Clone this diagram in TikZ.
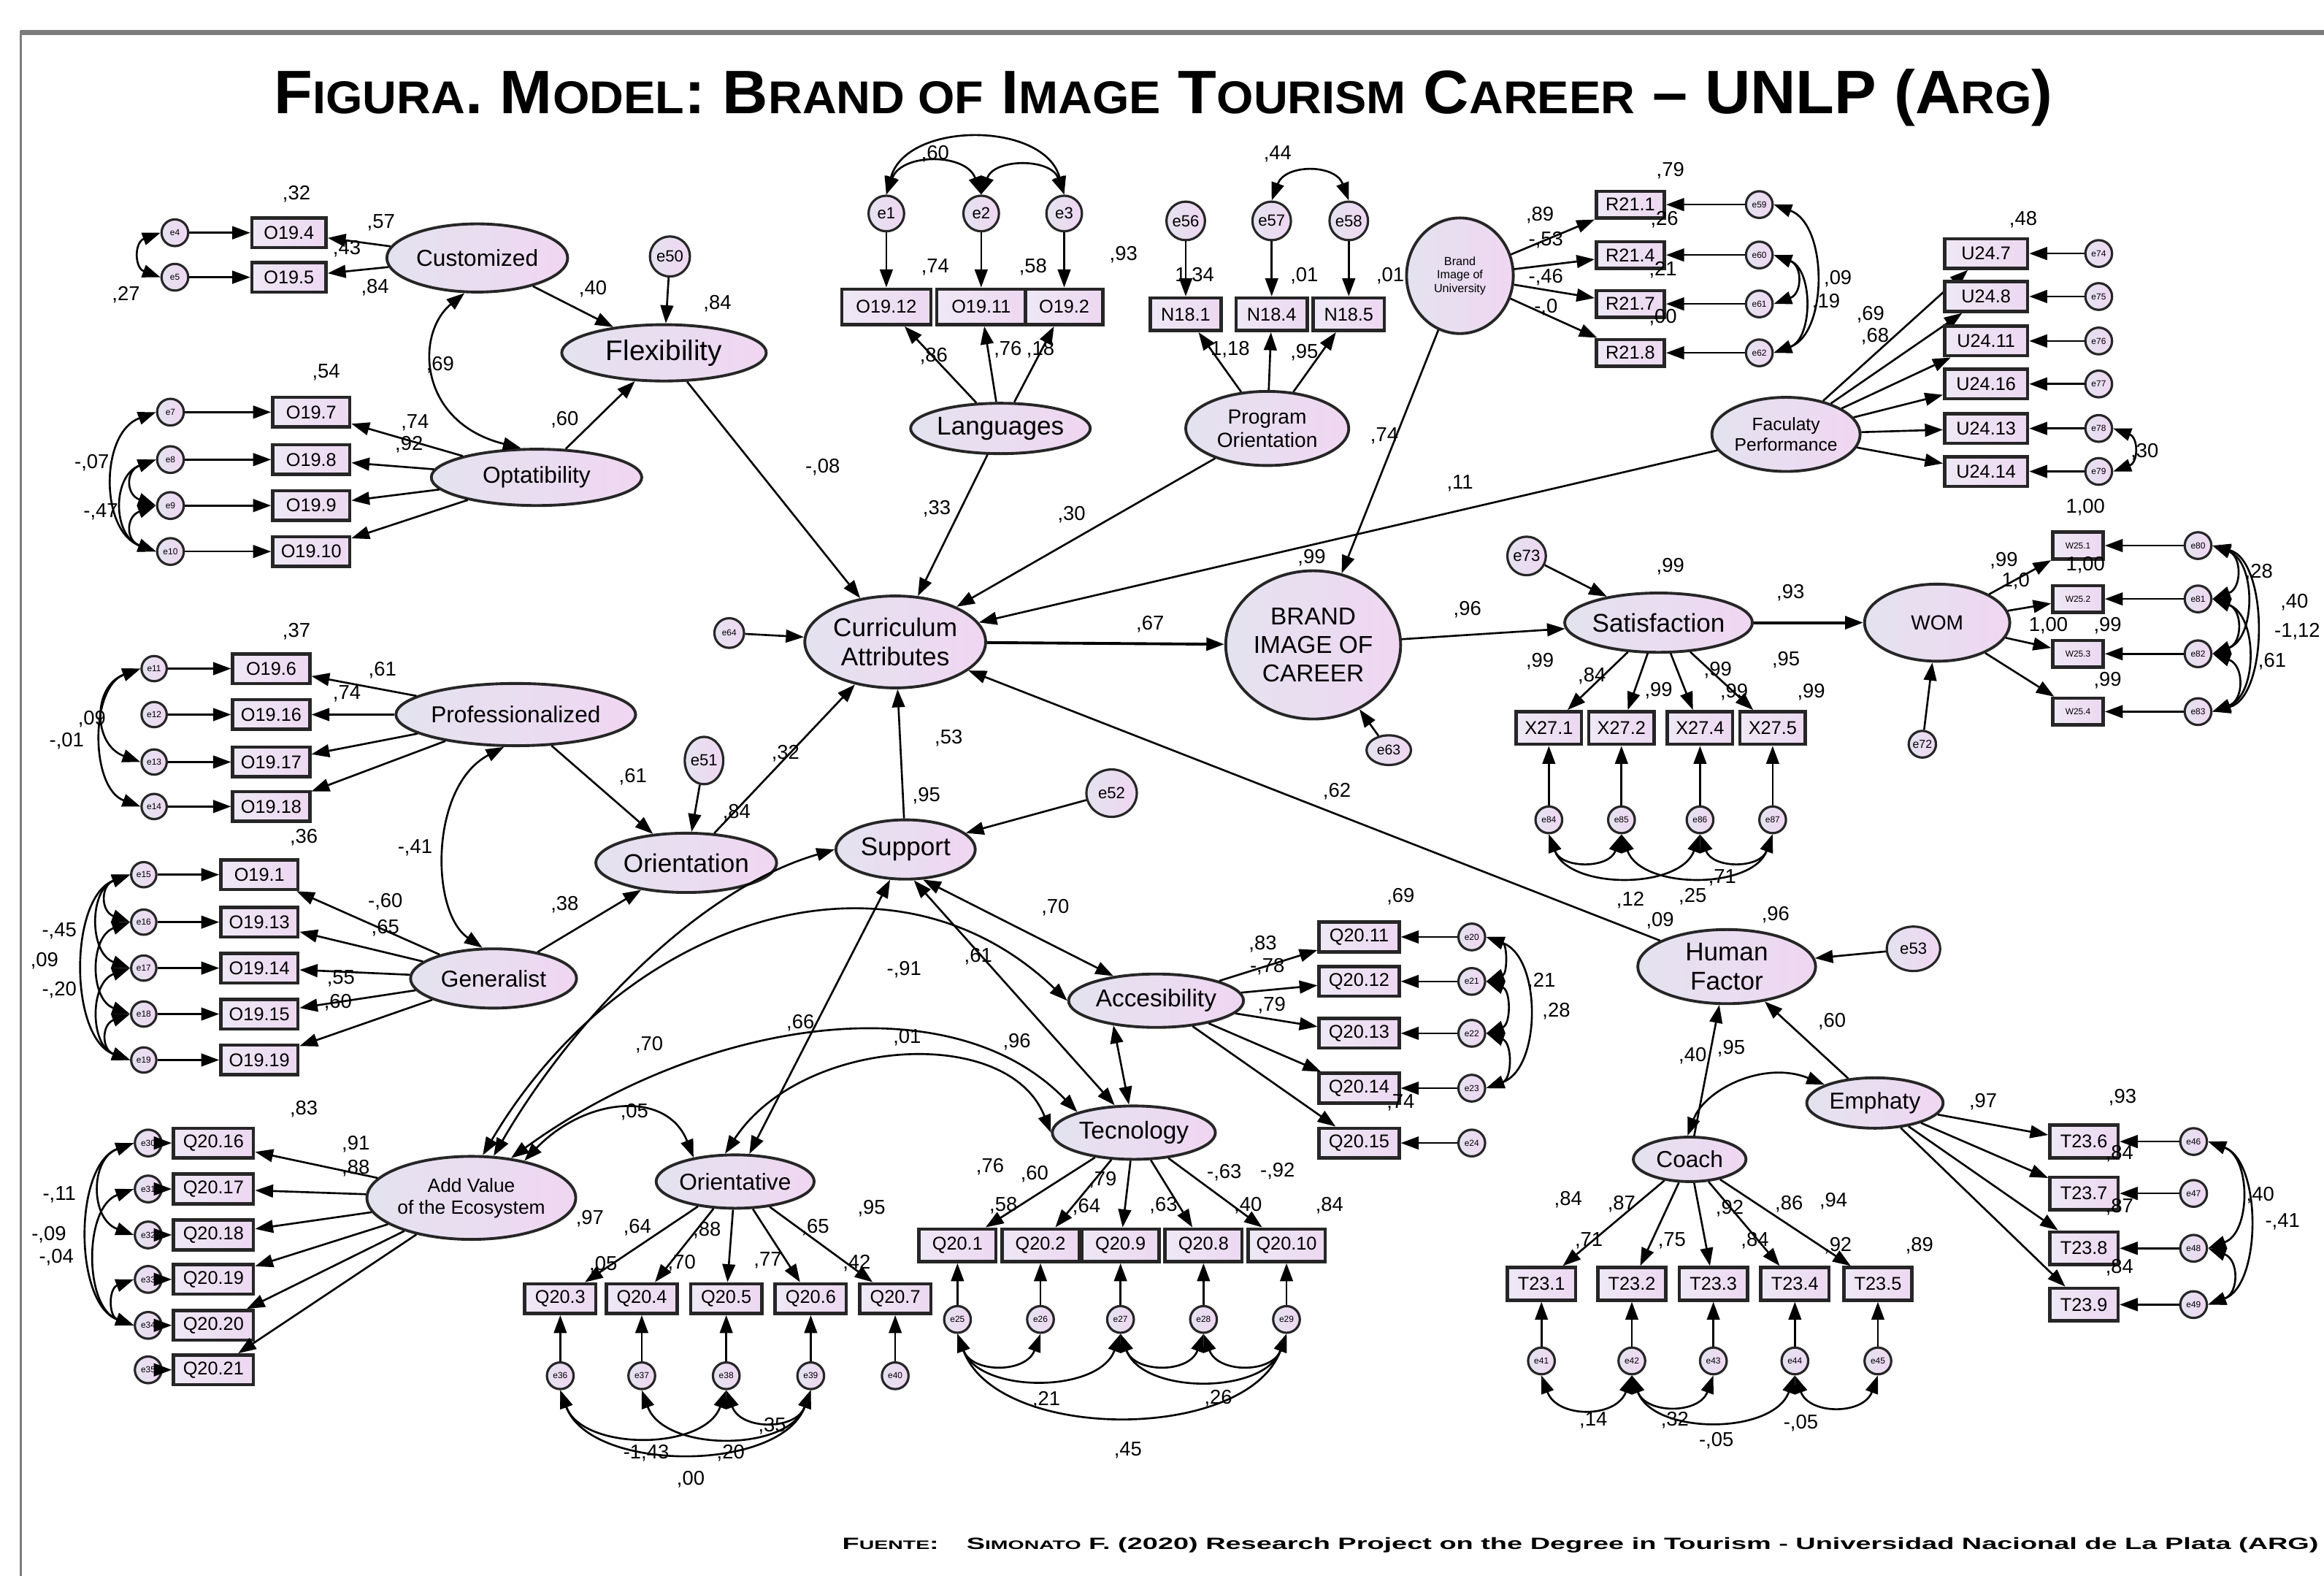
\documentclass[tikz,border=0pt]{standalone}
\usepackage{fontspec}
\setmainfont{Liberation Sans}
\usetikzlibrary{arrows.meta,shapes.geometric}
\newdimen\PX \PX=0.0203cm
\definecolor{latL}{HTML}{E3E3EF}
\definecolor{latR}{HTML}{F0D6F2}
\definecolor{obsL}{HTML}{EEE8F5}
\definecolor{obsR}{HTML}{EDD8F1}
\definecolor{frameG}{HTML}{7C7C7C}
\newcommand\NF{\fontsize{7.8}{8}\selectfont}
\newcommand\OF{\fontsize{7.2}{8}\selectfont}
\newcommand\EF{\fontsize{3.4}{4}\selectfont}
\newcommand\MEF{\fontsize{6.3}{7}\selectfont}
\newcommand\LF{\fontsize{10}{11.5}\selectfont}
\newcommand\SmX[2]{{\fontsize{#1}{#1}\selectfont #2}}
\begin{document}
\begin{tikzpicture}[x=0.0203cm,y=-0.0203cm,
 lat/.style 2 args={ellipse, draw=black!85, line width=1.1pt, left color=latL, right color=latR, minimum width=#1\PX, minimum height=#2\PX, inner sep=0pt, align=center, font=\LF},
 obs/.style 2 args={rectangle, draw=black!85, line width=1.3pt, left color=obsL, right color=obsR, minimum width=#1\PX, minimum height=#2\PX, inner sep=0pt, font=\OF},
 err/.style={ellipse, draw=black!85, line width=0.9pt, left color=latL, right color=latR, minimum width=#1\PX, minimum height=#1\PX, inner sep=0pt, font=\EF},
 arr/.style={-{Triangle[length=7pt,width=5pt]}, line width=0.75pt},
 cvv/.style={{Triangle[length=7pt,width=5pt]}-{Triangle[length=7pt,width=5pt]}, line width=0.75pt},
 lbl/.style={font=\NF, inner sep=0pt}]
\useasboundingbox (0,0) rectangle (1568,1063);
\fill[white] (0,0) rectangle (1568,1063);
% frame
\draw[frameG, line width=3.5\PX] (14,22) -- (1568,22);
\draw[frameG, line width=1.6\PX] (14,20.5) -- (14,1063);
% title and source
\node[inner sep=0pt] (title) at (785,66) {\resizebox{1200\PX}{30\PX}{\fontsize{20}{20}\selectfont\bfseries F\SmX{15}{IGURA}. M\SmX{15}{ODEL}: B\SmX{15}{RAND OF} I\SmX{15}{MAGE} T\SmX{15}{OURISM} C\SmX{15}{AREER} -- UNLP (A\SmX{15}{RG})}};
\node[inner sep=0pt, anchor=west] (src) at (568,1042) {\resizebox{996\PX}{8\PX}{\fontsize{10}{10}\selectfont\bfseries F\SmX{7.5}{UENTE}:\quad S\SmX{7.5}{IMONATO} F. (2020) Research Project on the Degree in Tourism - Universidad Nacional de La Plata (ARG)}};

% ================= Customized / Optatibility / Flexibility
\node[lat={122}{46}, font=\fontsize{9}{10}\selectfont] (cust) at (322,174) {Customized};
\node[lat={138}{38}, font=\fontsize{11}{12}\selectfont] (flex) at (448,238) {Flexibility};
\node[lat={142}{38}, font=\fontsize{9}{10}\selectfont] (opt) at (362,322) {Optatibility};
\node[err=27, font=\MEF] (e50) at (452,173) {e50};
\foreach \nm/\er/\yy/\tx in {o194/e4/157/{O19.4}, o195/e5/187/{O19.5}}{
  \node[obs={50}{20}] (\nm) at (195,\yy) {\tx};
  \node[err=18] (\er) at (118,\yy) {\er};
  \draw[arr] (\er) -- (\nm); \draw[arr] (cust) -- (\nm);}
\draw[cvv] (e4.west) to[out=200,in=160,looseness=1.6] (e5.west);
\draw[cvv] (cust.250) .. controls (280,225) and (282,285) .. (opt.118);
\draw[arr] (cust) -- (flex); \draw[arr] (opt) -- (flex); \draw[arr] (e50) -- (flex);
\foreach \nm/\er/\yy/\tx in {o197/e7/278/{O19.7}, o198/e8/310/{O19.8}, o199/e9/341/{O19.9}, o1910/e10/372/{O19.10}}{
  \node[obs={52}{20}] (\nm) at (210,\yy) {\tx};
  \node[err=18] (\er) at (115,\yy) {\er};
  \draw[arr] (\er) -- (\nm); \draw[arr] (opt) -- (\nm);}
\draw[cvv] (e7.west) to[out=200,in=160,looseness=1.1] (e10.west);
\draw[cvv] (e8.west) to[out=200,in=160,looseness=1.3] (e10.west);
\draw[cvv] (e9.west) to[out=200,in=160,looseness=1.8] (e10.west);
\draw[cvv] (e8.west) to[out=200,in=160,looseness=1.8] (e9.west);

% ================= Languages
\node[lat={118}{34}] (lang) at (675,289) {Languages};
\foreach \nm/\er/\xx/\tx/\ww in {o1912/e1/598/{O19.12}/60, o1911/e2/662/{O19.11}/60, o192/e3/718/{O19.2}/52}{
  \node[obs={\ww}{24}] (\nm) at (\xx,207) {\tx};
  \node[err=24, font=\MEF] (\er) at (\xx,144) {\er};
  \draw[arr] (\er) -- (\nm); \draw[arr] (lang) -- (\nm);}
\draw[cvv] (e1.north) to[out=70,in=110,looseness=1.2] (e2.north);
\draw[cvv] (e2.north) to[out=70,in=110,looseness=1.2] (e3.north);
\draw[cvv] (e1.north) to[out=75,in=105,looseness=1.1] (e3.north);

% ================= Program Orientation
\node[lat={110}{50}, font=\fontsize{8}{9}\selectfont] (po) at (855,289) {Program\\Orientation};
\foreach \nm/\er/\xx/\tx in {n181/e56/800/{N18.1}, n184/e57/858/{N18.4}, n185/e58/910/{N18.5}}{
  \node[obs={48}{22}] (\nm) at (\xx,212) {\tx};
  \node[err=26, font=\MEF] (\er) at (\xx,149) {\er};
  \draw[arr] (\er) -- (\nm); \draw[arr] (po) -- (\nm);}
\draw[cvv] (e57.north) to[out=70,in=110,looseness=1.3] (e58.north);

% ================= Brand Image of University
\node[lat={72}{78}, font=\fontsize{4.6}{5.2}\selectfont] (biu) at (985,186) {Brand\\Image of\\University};
\foreach \nm/\er/\yy/\tx in {r211/e59/138/{R21.1}, r214/e60/172/{R21.4}, r217/e61/205/{R21.7}, r218/e62/238/{R21.8}}{
  \node[obs={46}{18}] (\nm) at (1100,\yy) {\tx};
  \node[err=18] (\er) at (1187,\yy) {\er};
  \draw[arr] (\er) -- (\nm); \draw[arr] (biu) -- (\nm);}
\draw[cvv] (e59.east) to[out=-20,in=20,looseness=1.0] (e62.east);
\draw[cvv] (e60.east) to[out=-20,in=20,looseness=1.6] (e61.east);
\draw[cvv] (e60.east) to[out=-20,in=20,looseness=1.1] (e62.east);

% ================= Faculaty Performance
\node[lat={100}{50}, font=\fontsize{7}{8}\selectfont] (fp) at (1205,293) {Faculaty\\Performance};
\foreach \nm/\er/\yy/\tx in {u247/e74/171/{U24.7}, u248/e75/200/{U24.8}, u2411/e76/230/{U24.11}, u2416/e77/259/{U24.16}, u2413/e78/289/{U24.13}, u2414/e79/318/{U24.14}}{
  \node[obs={56}{20}] (\nm) at (1340,\yy) {\tx};
  \node[err=18] (\er) at (1416,\yy) {\er};
  \draw[arr] (\er) -- (\nm); \draw[arr] (fp) -- (\nm);}
\draw[cvv] (e78.east) to[out=-20,in=20,looseness=1.6] (e79.east);

% ================= Central
\node[lat={122}{62}] (curr) at (604,433) {Curriculum\\Attributes};
\node[err=20, font=\EF] (e64) at (492,427) {e64};
\node[lat={118}{100}, font=\fontsize{9.5}{11}\selectfont] (brand) at (886,435) {BRAND\\IMAGE OF\\CAREER};
\node[ellipse, draw=black!85, line width=0.9pt, left color=latL, right color=latR, minimum width=30\PX, minimum height=20\PX, inner sep=0pt, font=\fontsize{5.5}{6}\selectfont] (e63) at (937,506) {e63};
\node[lat={122}{40}] (sat) at (1119,420) {Satisfaction};
\node[err=26, font=\MEF] (e73) at (1030,375) {e73};
\node[lat={98}{52}, font=\fontsize{8}{9}\selectfont] (wom) at (1307,420) {WOM};
\node[err=18, font=\fontsize{4.5}{5}\selectfont] (e72) at (1297,502) {e72};
\draw[arr] (e64) -- (curr);
\draw[arr] (flex) -- (curr);
\draw[arr] (lang) -- (curr);
\draw[arr] (po) -- (curr);
\draw[arr] (fp) -- (curr);
\draw[arr] (biu) -- (brand);
\draw[arr, line width=1.1pt] (curr) -- (brand);
\draw[arr] (e63) -- (brand);
\draw[arr] (brand) -- (sat);
\draw[arr] (e73) -- (sat);
\draw[arr, line width=1.1pt] (sat) -- (wom);
\draw[arr] (e72) -- (wom);
% WOM indicators
\foreach \nm/\er/\yy/\tx in {w1/e80/368/{W25.1}, w2/e81/404/{W25.2}, w3/e82/441/{W25.3}, w4/e83/480/{W25.4}}{
  \node[obs={34}{18}, font=\EF] (\nm) at (1402,\yy) {\tx};
  \node[err=18] (\er) at (1483,\yy) {\er};
  \draw[arr] (\er) -- (\nm); \draw[arr] (wom) -- (\nm);}
\draw[cvv] (e80.east) to[out=-20,in=20,looseness=1.5] (e81.east);
\draw[cvv] (e81.east) to[out=-20,in=20,looseness=1.5] (e82.east);
\draw[cvv] (e82.east) to[out=-20,in=20,looseness=1.5] (e83.east);
\draw[cvv] (e80.east) to[out=-20,in=20,looseness=1.1] (e82.east);
\draw[cvv] (e81.east) to[out=-20,in=20,looseness=1.1] (e83.east);
\draw[cvv] (e80.east) to[out=-15,in=15,looseness=0.9] (e83.east);
% Satisfaction indicators
\foreach \nm/\er/\xx/\tx in {x271/e84/1045/{X27.1}, x272/e85/1094/{X27.2}, x274/e86/1147/{X27.4}, x275/e87/1196/{X27.5}}{
  \node[obs={44}{22}] (\nm) at (\xx,491) {\tx};
  \node[err=18] (\er) at (\xx,553) {\er};
  \draw[arr] (\er) -- (\nm); \draw[arr] (sat) -- (\nm);}
\draw[cvv] (e84.south) to[out=-70,in=-110,looseness=1.3] (e85.south);
\draw[cvv] (e84.south) to[out=-70,in=-110,looseness=1.0] (e86.south);
\draw[cvv] (e85.south) to[out=-70,in=-110,looseness=1.0] (e87.south);
\draw[cvv] (e86.south) to[out=-70,in=-110,looseness=1.3] (e87.south);

% ================= Orientation group
\node[lat={122}{40}] (orient) at (463,582) {Orientation};
\node[ellipse, draw=black!85, line width=0.9pt, left color=latL, right color=latR, minimum width=26\PX, minimum height=32\PX, inner sep=0pt, font=\MEF] (e51) at (475,513) {e51};
\node[lat={138}{42}, font=\fontsize{9}{10}\selectfont] (prof) at (348,482) {Professionalized};
\node[lat={112}{40}, font=\fontsize{9}{10}\selectfont] (gen) at (333,660) {Generalist};
\foreach \nm/\er/\yy/\tx in {o196/e11/451/{O19.6}, o1916/e12/482/{O19.16}, o1917/e13/514/{O19.17}, o1918/e14/544/{O19.18}}{
  \node[obs={52}{20}] (\nm) at (183,\yy) {\tx};
  \node[err=17] (\er) at (104,\yy) {\er};
  \draw[arr] (\er) -- (\nm); \draw[arr] (prof) -- (\nm);}
\draw[cvv] (e11.west) to[out=200,in=160,looseness=1.0] (e14.west);
\draw[cvv] (e11.west) to[out=200,in=160,looseness=1.4] (e13.west);
\foreach \nm/\er/\yy/\tx in {o191/e15/590/{O19.1}, o1913/e16/622/{O19.13}, o1914/e17/653/{O19.14}, o1915/e18/684/{O19.15}, o1919/e19/715/{O19.19}}{
  \node[obs={52}{20}] (\nm) at (175,\yy) {\tx};
  \node[err=17] (\er) at (97,\yy) {\er};
  \draw[arr] (\er) -- (\nm); \draw[arr] (gen) -- (\nm);}
\draw[cvv] (e15.west) to[out=200,in=160,looseness=0.9] (e19.west);
\draw[cvv] (e15.west) to[out=200,in=160,looseness=1.2] (e17.west);
\draw[cvv] (e16.west) to[out=200,in=160,looseness=1.2] (e18.west);
\draw[cvv] (e17.west) to[out=200,in=160,looseness=1.2] (e19.west);
\draw[cvv] (e15.west) to[out=200,in=160,looseness=1.7] (e16.west);
\draw[cvv] (e18.west) to[out=200,in=160,looseness=1.7] (e19.west);
\draw[cvv] (prof.250) .. controls (290,530) and (290,615) .. (gen.110);
\draw[arr] (prof) -- (orient);
\draw[arr] (gen) -- (orient);
\draw[arr] (e51) -- (orient);
\draw[arr] (orient) -- (curr);

% ================= Support block
\node[lat={94}{40}] (supp) at (611,573) {Support};
\node[ellipse, draw=black!85, line width=0.9pt, left color=latL, right color=latR, minimum width=34\PX, minimum height=32\PX, inner sep=0pt, font=\MEF] (e52) at (750,535) {e52};
\draw[arr] (e52) -- (supp);
\draw[arr] (supp) -- (curr);
\node[lat={118}{36}, font=\fontsize{9.5}{10}\selectfont] (acc) at (780,675) {Accesibility};
\node[lat={110}{36}, font=\fontsize{9.5}{10}\selectfont] (tec) at (765,764) {Tecnology};
\node[lat={132}{56}, font=\fontsize{7.5}{8.5}\selectfont] (av) at (318,808) {Add Value\\of the Ecosystem};
\node[lat={106}{36}, font=\fontsize{9}{10}\selectfont] (ori) at (496,797) {Orientative};
\foreach \nm/\er/\yy/\tx in {q2011/e20/632/{Q20.11}, q2012/e21/662/{Q20.12}, q2013/e22/697/{Q20.13}, q2014/e23/734/{Q20.14}, q2015/e24/771/{Q20.15}}{
  \node[obs={54}{20}] (\nm) at (917,\yy) {\tx};
  \node[err=18] (\er) at (993,\yy) {\er};
  \draw[arr] (\er) -- (\nm); \draw[arr] (acc) -- (\nm);}
\draw[cvv] (e20.east) to[out=-20,in=20,looseness=1.0] (e23.east);
\draw[cvv] (e21.east) to[out=-20,in=20,looseness=1.3] (e22.east);
\draw[cvv] (e20.east) to[out=-20,in=20,looseness=1.3] (e21.east);
\draw[cvv] (e22.east) to[out=-20,in=20,looseness=1.3] (e23.east);
\foreach \nm/\er/\xx/\tx in {q201/e25/646/{Q20.1}, q202/e26/702/{Q20.2}, q209/e27/756/{Q20.9}, q208/e28/812/{Q20.8}, q2010/e29/868/{Q20.10}}{
  \node[obs={52}{22}] (\nm) at (\xx,840) {\tx};
  \node[err=18] (\er) at (\xx,890) {\er};
  \draw[arr] (\er) -- (\nm); \draw[arr] (tec) -- (\nm);}
\draw[cvv] (e25.south) to[out=-70,in=-110,looseness=1.3] (e26.south);
\draw[cvv] (e25.south) to[out=-70,in=-110,looseness=1.0] (e27.south);
\draw[cvv] (e27.south) to[out=-70,in=-110,looseness=1.3] (e28.south);
\draw[cvv] (e27.south) to[out=-70,in=-110,looseness=1.0] (e29.south);
\draw[cvv] (e28.south) to[out=-70,in=-110,looseness=1.3] (e29.south);
\draw[cvv] (e25.south) to[out=-70,in=-110,looseness=0.9] (e29.south);
\foreach \nm/\er/\yy/\tx in {q2016/e30/771/{Q20.16}, q2017/e31/802/{Q20.17}, q2018/e32/833/{Q20.18}, q2019/e33/863/{Q20.19}, q2020/e34/894/{Q20.20}, q2021/e35/924/{Q20.21}}{
  \node[obs={54}{20}] (\nm) at (144,\yy) {\tx};
  \node[err=18] (\er) at (100,\yy) {\er};
  \draw[arr] (\er) -- (\nm); \draw[arr] (av) -- (\nm);}
\draw[cvv] (e30.west) to[out=200,in=160,looseness=1.3] (e32.west);
\draw[cvv] (e30.west) to[out=200,in=160,looseness=0.9] (e34.west);
\draw[cvv] (e31.west) to[out=200,in=160,looseness=1.0] (e34.west);
\draw[cvv] (e33.west) to[out=200,in=160,looseness=1.5] (e34.west);
\foreach \nm/\er/\xx/\tx in {q203/e36/378/{Q20.3}, q204/e37/433/{Q20.4}, q205/e38/490/{Q20.5}, q206/e39/547/{Q20.6}, q207/e40/604/{Q20.7}}{
  \node[obs={48}{20}] (\nm) at (\xx,876) {\tx};
  \node[err=18] (\er) at (\xx,928) {\er};
  \draw[arr] (\er) -- (\nm); \draw[arr] (ori) -- (\nm);}
\draw[cvv] (e36.south) to[out=-70,in=-110,looseness=1.0] (e38.south);
\draw[cvv] (e37.south) to[out=-70,in=-110,looseness=1.0] (e39.south);
\draw[cvv] (e38.south) to[out=-70,in=-110,looseness=1.3] (e39.south);
\draw[cvv] (e36.south) to[out=-70,in=-110,looseness=0.9] (e39.south);
% structural among Support block
\draw[cvv] (supp.west) .. controls (470,600) and (385,690) .. (av.62);
\draw[cvv] (av.75) .. controls (420,620) and (600,560) .. (acc.west);
\draw[cvv] (supp) -- (ori);
\draw[cvv] (supp.300) -- (acc.150);
\draw[cvv] (supp.285) -- (tec.125);
\draw[cvv] (av.45) .. controls (470,690) and (640,660) .. (tec.160);
\draw[cvv] (ori.110) .. controls (540,700) and (680,690) .. (tec.west);
\draw[cvv] (av.35) .. controls (395,740) and (450,735) .. (ori.150);
\draw[cvv] (acc.210) -- (tec.100);

% ================= Human Factor
\node[lat={120}{50}] (hf) at (1165,652) {Human\\Factor};
\node[ellipse, draw=black!85, line width=0.9pt, left color=latL, right color=latR, minimum width=36\PX, minimum height=30\PX, inner sep=0pt, font=\MEF] (e53) at (1291,640) {e53};
\node[lat={92}{34}, font=\fontsize{9}{10}\selectfont] (emp) at (1265,744) {Emphaty};
\node[lat={76}{30}, font=\fontsize{9}{10}\selectfont] (coach) at (1140,782) {Coach};
\draw[arr] (e53) -- (hf);
\draw[arr] (hf) -- (curr);
\draw[arr] (emp) -- (hf);
\draw[arr] (coach) -- (hf);
\draw[cvv] (coach.95) .. controls (1150,735) and (1190,715) .. (emp.160);
\foreach \nm/\er/\xx/\tx in {t231/e41/1040/{T23.1}, t232/e42/1101/{T23.2}, t233/e43/1156/{T23.3}, t234/e44/1211/{T23.4}, t235/e45/1267/{T23.5}}{
  \node[obs={46}{22}] (\nm) at (\xx,866) {\tx};
  \node[err=18] (\er) at (\xx,918) {\er};
  \draw[arr] (\er) -- (\nm); \draw[arr] (coach) -- (\nm);}
\draw[cvv] (e41.south) to[out=-70,in=-110,looseness=1.3] (e42.south);
\draw[cvv] (e42.south) to[out=-70,in=-110,looseness=1.3] (e43.south);
\draw[cvv] (e42.south) to[out=-70,in=-110,looseness=1.0] (e44.south);
\draw[cvv] (e44.south) to[out=-70,in=-110,looseness=1.3] (e45.south);
\foreach \nm/\er/\yy/\tx in {t236/e46/770/{T23.6}, t237/e47/805/{T23.7}, t238/e48/842/{T23.8}, t239/e49/880/{T23.9}}{
  \node[obs={46}{22}] (\nm) at (1406,\yy) {\tx};
  \node[err=18] (\er) at (1480,\yy) {\er};
  \draw[arr] (\er) -- (\nm); \draw[arr] (emp) -- (\nm);}
\draw[cvv] (e46.east) to[out=-20,in=20,looseness=1.1] (e48.east);
\draw[cvv] (e46.east) to[out=-20,in=20,looseness=0.9] (e49.east);
\draw[cvv] (e48.east) to[out=-20,in=20,looseness=1.5] (e49.east);

% ================= coefficient labels
\foreach \xx/\yy/\tx [count=\i] in {
 200/131/{,32}, 257/150/{,57}, 234/168/{,43}, 253/194/{,84}, 85/199/{,27}, 400/195/{,40}, 484/205/{,84}, 297/246/{,69}, 381/283/{,60},
 220/251/{,54}, 280/285/{,74}, 276/300/{,92}, 62/312/{-,07}, 68/345/{-,47}, 555/315/{-,08},
 631/104/{,60}, 631/180/{,74}, 697/180/{,58}, 758/172/{,93}, 630/240/{,86}, 680/236/{,76}, 702/236/{,18}, 632/343/{,33},
 862/104/{,44}, 806/186/{1,34}, 880/186/{,01}, 938/186/{,01}, 830/236/{1,18}, 880/238/{,95}, 934/294/{,74}, 723/347/{,30},
 1127/115/{,79}, 1039/145/{,89}, 1043/162/{-,53}, 1043/187/{-,46}, 1043/207/{-,0}, 1123/148/{,26}, 1122/182/{,21}, 1122/214/{,00}, 1240/188/{,09}, 1232/204/{,19},
 1365/148/{,48}, 1262/212/{,69}, 1265/227/{,68}, 1447/305/{,30}, 985/326/{,11}, 1407/342/{1,00},
 776/421/{,67}, 885/376/{,99}, 990/411/{,96}, 1127/382/{,99}, 1208/400/{,93},
 1039/446/{,99}, 1074/456/{,84}, 1119/466/{,99}, 1159/452/{,99}, 1205/445/{,95}, 1170/467/{,99}, 1222/467/{,99},
 1100/607/{,12}, 1120/621/{,09}, 1142/605/{,25}, 1162/592/{,71},
 1352/378/{,99}, 1360/392/{1,0}, 1407/381/{1,00}, 1382/422/{1,00}, 1422/422/{,99}, 1422/459/{,99}, 1524/386/{,28}, 1548/406/{,40}, 1550/426/{-1,12}, 1533/446/{,61},
 200/426/{,37}, 258/452/{,61}, 234/468/{,74}, 62/485/{,09}, 45/500/{-,01}, 205/565/{,36}, 280/572/{-,41}, 427/524/{,61}, 497/548/{,84}, 530/508/{,32}, 381/610/{,38},
 260/608/{-,60}, 260/626/{,65}, 230/660/{,55}, 228/676/{,60}, 30/648/{,09}, 40/628/{-,45}, 40/668/{-,20},
 625/537/{,95}, 640/498/{,53}, 712/612/{,70}, 660/645/{,61}, 610/654/{-,91}, 540/690/{,66}, 612/700/{,01}, 686/703/{,96}, 438/705/{,70}, 428/750/{,05},
 945/605/{,69}, 852/637/{,83}, 855/652/{-,78}, 858/678/{,79}, 1040/662/{,21}, 1050/682/{,28}, 945/744/{,74},
 668/787/{,76}, 698/792/{,60}, 677/813/{,58}, 744/796/{,79}, 733/814/{,64}, 785/813/{,63}, 826/791/{-,63}, 842/813/{,40}, 862/790/{-,92}, 897/813/{,84}, 706/944/{,21}, 822/943/{,26}, 761/978/{,45},
 205/748/{,83}, 240/772/{,91}, 240/788/{,88}, 33/833/{-,09}, 38/848/{-,04}, 40/806/{-,11},
 398/822/{,97}, 430/828/{,64}, 477/830/{,88}, 550/828/{,65}, 588/815/{,95}, 407/853/{,05}, 460/852/{,70}, 518/850/{,77}, 578/852/{,42}, 436/980/{-1,43}, 493/980/{,20}, 466/998/{,00}, 521/962/{,35},
 1198/617/{,96}, 1236/689/{,60}, 1142/712/{,40}, 1168/707/{,95}, 902/534/{,62},
 1058/809/{,84}, 1094/812/{,87}, 1167/815/{,92}, 1207/812/{,86}, 1237/810/{,94}, 1072/837/{,71}, 1128/837/{,75}, 1184/837/{,84}, 1240/840/{,92}, 1295/840/{,89}, 1075/958/{,14}, 1130/958/{,32}, 1158/972/{-,05}, 1215/960/{-,05},
 1338/743/{,97}, 1432/740/{,93}, 1430/778/{,84}, 1430/814/{,87}, 1430/855/{,84}, 1525/806/{,40}, 1540/824/{-,41}}
 \node[lbl] (lab\i) at (\xx,\yy) {\tx};
\end{tikzpicture}
\end{document}
